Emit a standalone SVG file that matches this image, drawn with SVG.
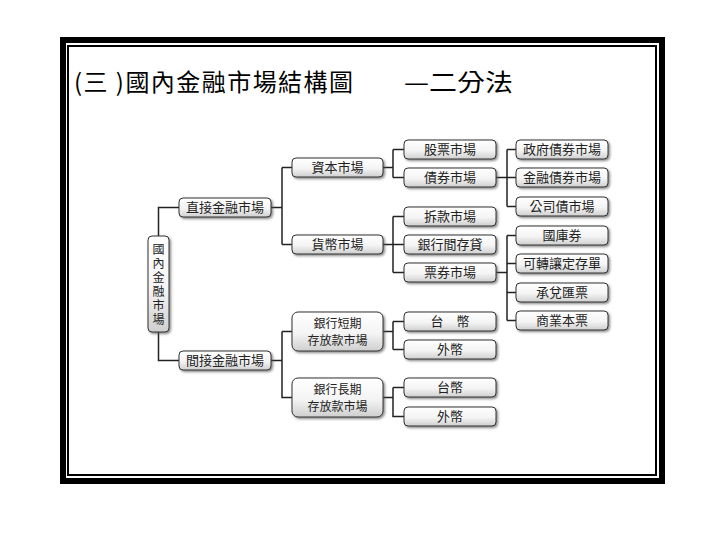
<svg xmlns="http://www.w3.org/2000/svg" width="720" height="540" viewBox="0 0 720 540">
<defs>
<linearGradient id="g" x1="0" y1="0" x2="0" y2="1">
<stop offset="0" stop-color="#ffffff"/>
<stop offset="0.55" stop-color="#f4f4f4"/>
<stop offset="1" stop-color="#cfcfcf"/>
</linearGradient>
<filter id="sh" x="-10%" y="-20%" width="130%" height="160%">
<feDropShadow dx="1.5" dy="1.5" stdDeviation="0.8" flood-color="#555" flood-opacity="0.7"/>
</filter>
<style>
.box{fill:url(#g);stroke:#333;stroke-width:1;filter:url(#sh)}
.t{font-family:"Noto Sans CJK TC","Noto Sans CJK SC",sans-serif;font-size:13px;fill:#222;text-anchor:middle}
.t2{font-size:12px}
.v{font-size:12px;writing-mode:vertical-rl;text-anchor:start;letter-spacing:2px}
.c{fill:none;stroke:#222;stroke-width:1.5}
.title{font-family:"Noto Sans CJK TC","Noto Sans CJK SC",sans-serif;font-size:24px;fill:#000}
</style>
</defs>
<rect x="0" y="0" width="720" height="540" fill="#fff"/>
<g id="frame">
<rect x="63" y="40" width="599" height="441" fill="#fff" stroke="#000" stroke-width="6"/>
<rect x="68" y="46" width="588" height="429" fill="none" stroke="#000" stroke-width="2"/>
</g>
<g id="title">
<text class="title" x="74" y="91" textLength="279" lengthAdjust="spacing">(三 )國內金融市場結構圖</text>
<text class="title" x="404" y="91" textLength="109" lengthAdjust="spacingAndGlyphs">—二分法</text>
</g>
<g id="connectors">
<path class="c" d="M158.5 236 V207.5 H179 M158.5 332 V360.5 H179"/>
<path class="c" d="M271 207.5 H282 M282 167.5 V244.5 M282 167.5 H292 M282 244.5 H292"/>
<path class="c" d="M271 360.5 H282 M282 331.5 V397.5 H292 M282 331.5 H292"/>
<path class="c" d="M383 167.5 H393 M393 149.5 V177.5 M393 149.5 H404 M393 177.5 H404"/>
<path class="c" d="M383 244.5 H404 M393 216.5 V272.5 M393 216.5 H404 M393 272.5 H404"/>
<path class="c" d="M496 177.5 H516 M507 149.5 V206.5 M507 149.5 H516 M507 206.5 H516"/>
<path class="c" d="M496 272.5 H507 M507 235.5 V320.5 M507 235.5 H516 M507 263.5 H516 M507 292.5 H516 M507 320.5 H516"/>
<path class="c" d="M383 331.5 H393 M393 321.5 V349.5 M393 321.5 H404 M393 349.5 H404"/>
<path class="c" d="M383 397.5 H393 M393 387.5 V416.5 H404 M393 387.5 H404"/>
</g>
<g id="n_root"><rect class="box" x="148" y="236" width="21" height="96" rx="4"/>
<text class="t v" x="158.5" y="243">國內金融市場</text></g>
<g id="n_direct"><rect class="box" x="179" y="198" width="92" height="19" rx="4"/><text class="t" x="225" y="212">直接金融市場</text></g>
<g id="n_indirect"><rect class="box" x="179" y="351" width="92" height="19" rx="4"/><text class="t" x="225" y="365">間接金融市場</text></g>
<g id="n_capital"><rect class="box" x="292" y="158" width="91" height="19" rx="4"/><text class="t" x="337.5" y="172">資本市場</text></g>
<g id="n_money"><rect class="box" x="292" y="235" width="91" height="19" rx="4"/><text class="t" x="337.5" y="249">貨幣市場</text></g>
<g id="n_short"><rect class="box" x="292" y="312" width="91" height="39" rx="6"/><text class="t t2" x="337.5" y="327.5">銀行短期</text><text class="t t2" x="337.5" y="345">存放款市場</text></g>
<g id="n_long"><rect class="box" x="292" y="378" width="91" height="39" rx="6"/><text class="t t2" x="337.5" y="393.5">銀行長期</text><text class="t t2" x="337.5" y="411">存放款市場</text></g>
<g id="n_stock"><rect class="box" x="404" y="140" width="92" height="19" rx="4"/><text class="t" x="450" y="154">股票市場</text></g>
<g id="n_bond"><rect class="box" x="404" y="168" width="92" height="19" rx="4"/><text class="t" x="450" y="182">債券市場</text></g>
<g id="n_call"><rect class="box" x="404" y="207" width="92" height="19" rx="4"/><text class="t" x="450" y="221">拆款市場</text></g>
<g id="n_interbank"><rect class="box" x="404" y="235" width="92" height="19" rx="4"/><text class="t" x="450" y="249">銀行間存貸</text></g>
<g id="n_bills"><rect class="box" x="404" y="263" width="92" height="19" rx="4"/><text class="t" x="450" y="277">票券市場</text></g>
<g id="n_s_twd"><rect class="box" x="404" y="312" width="92" height="19" rx="4"/><text class="t" x="450" y="326">台　幣</text></g>
<g id="n_s_fx"><rect class="box" x="404" y="340" width="92" height="19" rx="4"/><text class="t" x="450" y="354">外幣</text></g>
<g id="n_l_twd"><rect class="box" x="404" y="378" width="92" height="19" rx="4"/><text class="t" x="450" y="392">台幣</text></g>
<g id="n_l_fx"><rect class="box" x="404" y="407" width="92" height="19" rx="4"/><text class="t" x="450" y="421">外幣</text></g>
<g id="n_gov"><rect class="box" x="516" y="140" width="92" height="19" rx="4"/><text class="t" x="562" y="154">政府債券市場</text></g>
<g id="n_fin"><rect class="box" x="516" y="168" width="92" height="19" rx="4"/><text class="t" x="562" y="182">金融債券市場</text></g>
<g id="n_corp"><rect class="box" x="516" y="197" width="92" height="19" rx="4"/><text class="t" x="562" y="211">公司債市場</text></g>
<g id="n_tb"><rect class="box" x="516" y="226" width="92" height="19" rx="4"/><text class="t" x="562" y="240">國庫券</text></g>
<g id="n_ncd"><rect class="box" x="516" y="254" width="92" height="19" rx="4"/><text class="t" x="562" y="268">可轉讓定存單</text></g>
<g id="n_ba"><rect class="box" x="516" y="283" width="92" height="19" rx="4"/><text class="t" x="562" y="297">承兌匯票</text></g>
<g id="n_cp"><rect class="box" x="516" y="311" width="92" height="19" rx="4"/><text class="t" x="562" y="325">商業本票</text></g>
</svg>
